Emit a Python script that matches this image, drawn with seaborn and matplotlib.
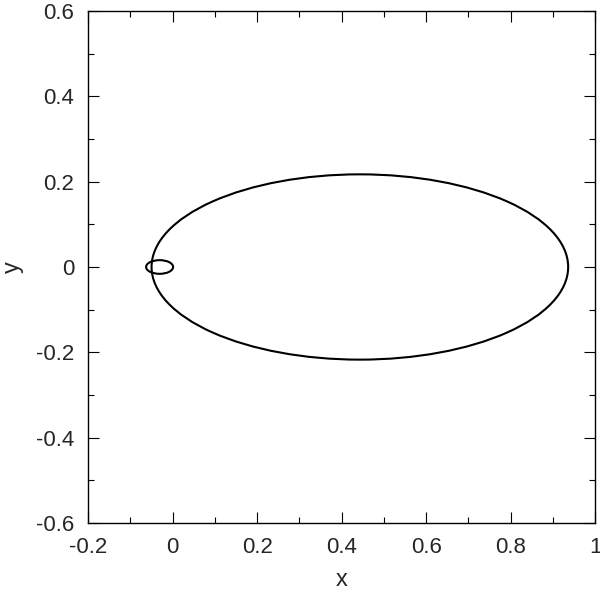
import matplotlib
matplotlib.use("Agg")
from matplotlib import pyplot as plt
from matplotlib.patches import Ellipse
from matplotlib.ticker import FixedLocator, FixedFormatter, MultipleLocator
import seaborn as sns

# orbit shapes: centre x, centre y, full width, full height
orbit_cx = [0.443, -0.031]
orbit_cy = [0.0, 0.0]
orbit_w = [0.986, 0.064]
orbit_h = [0.434, 0.032]

xticks = [-0.2, 0, 0.2, 0.4, 0.6, 0.8, 1]
xtick_labels = ["-0.2", "0", "0.2", "0.4", "0.6", "0.8", "1"]
yticks = [-0.6, -0.4, -0.2, 0, 0.2, 0.4, 0.6]
ytick_labels = ["-0.6", "-0.4", "-0.2", "0", "0.2", "0.4", "0.6"]

sns.set_style("ticks")
plt.rcParams['font.family'] = ['Liberation Sans', 'DejaVu Sans']

fig = plt.figure(figsize=(6.0, 6.02), dpi=100)
ax = fig.add_axes([0.147, 0.131, 0.845, 0.851])

for cx, cy, w, h in zip(orbit_cx, orbit_cy, orbit_w, orbit_h):
    ax.add_patch(Ellipse((cx, cy), w, h, fill=False, edgecolor="black", linewidth=1.5))

ax.set_xlim(-0.2, 1)
ax.set_ylim(-0.6, 0.6)
ax.xaxis.set_major_locator(FixedLocator(xticks))
ax.xaxis.set_major_formatter(FixedFormatter(xtick_labels))
ax.yaxis.set_major_locator(FixedLocator(yticks))
ax.yaxis.set_major_formatter(FixedFormatter(ytick_labels))
ax.xaxis.set_minor_locator(MultipleLocator(0.1))
ax.yaxis.set_minor_locator(MultipleLocator(0.1))

ax.tick_params(which="both", direction="in", top=True, right=True, color="black", width=0.8)
ax.tick_params(which="major", length=8, labelsize=16, pad=10)
ax.tick_params(which="minor", length=4)
for s in ax.spines.values():
    s.set_color("black")
    s.set_linewidth(1.0)

ax.set_xlabel("x", fontsize=17, va="center")
ax.set_ylabel("y", fontsize=17, va="center")
ax.xaxis.set_label_coords(0.5, -0.111)
ax.yaxis.set_label_coords(-0.148, 0.5)

fig.savefig("out.png", dpi=100, facecolor="white")
